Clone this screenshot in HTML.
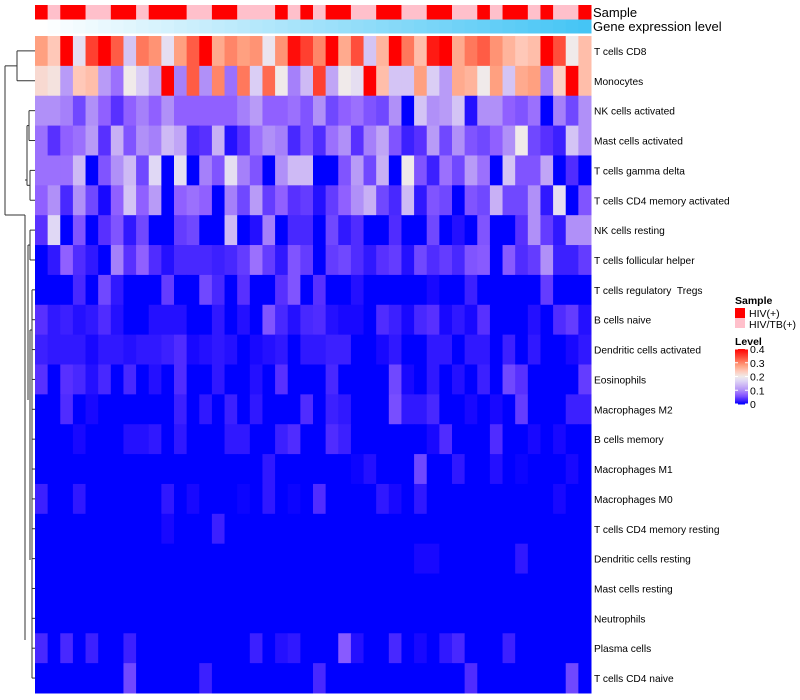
<!DOCTYPE html>
<html><head><meta charset="utf-8">
<style>
body{margin:0;background:#fff;width:800px;height:700px;overflow:hidden;font-family:"Liberation Sans",sans-serif;}
svg{display:block}
</style></head>
<body>
<svg id="chart" width="800" height="700" xmlns="http://www.w3.org/2000/svg">
<g id="dend" stroke="#333" stroke-width="1" fill="none"></g>
<g id="cells"></g>
<g id="annot"></g>
<g id="labels" font-size="10.2" fill="#000"></g>
<text x="593" y="17" font-size="13">Sample</text>
<text x="593" y="31" font-size="13">Gene expression level</text>
<g font-size="10.5">
<text x="735" y="304" font-weight="bold">Sample</text>
<rect x="735" y="308" width="10" height="10" fill="#ff0000"/>
<text x="749" y="317">HIV(+)</text>
<rect x="735" y="318" width="10" height="10" fill="#ffc0cb"/>
<text x="749" y="328">HIV/TB(+)</text>
<text x="735" y="345" font-weight="bold">Level</text>
<g id="cbar"></g>
</g>
</svg>
<script>
const rowNames=["T cells CD8","Monocytes","NK cells activated","Mast cells activated","T cells gamma delta","T cells CD4 memory activated","NK cells resting","T cells follicular helper","T cells regulatory\u00a0 Tregs","B cells naive","Dendritic cells activated","Eosinophils","Macrophages M2","B cells memory","Macrophages M1","Macrophages M0","T cells CD4 memory resting","Dendritic cells resting","Mast cells resting","Neutrophils","Plasma cells","T cells CD4 naive"];
const sampleGroups="RPRRPPRRPRRRPPRRPPPRPRPRRPPRRPPRRPPRPRRPRPPR".split("");
const rowTCD8=[.28,.24,.4,.18,.35,.4,.33,.15,.31,.29,.18,.28,.33,.4,.27,.3,.28,.29,.19,.29,.39,.35,.3,.4,.27,.34,.15,.26,.4,.31,.25,.38,.4,.27,.31,.33,.29,.26,.24,.25,.4,.34,.2,.25];
const rowMono=[.22,.21,.11,.24,.25,.11,.08,.2,.16,.12,.4,.09,.33,.1,.3,.08,.31,.16,.32,.2,.09,.14,.35,.12,.2,.18,.4,.25,.15,.15,.28,.16,.11,.27,.26,.2,.28,.15,.27,.28,.09,.23,.4,.25];
const rowNKact=[.1,.1,.09,.05,.1,.07,.04,.07,.09,.07,.1,.07,.07,.07,.07,.07,.09,.11,.07,.07,.08,.06,.1,.05,.07,.08,.06,.05,.1,0,.15,.1,.11,.15,.015,.1,.1,.07,.06,.08,0,.09,.05,.1];
const rowMastAct=[.08,.04,.07,.08,.11,.04,.13,.06,.1,.09,.14,.12,.03,.04,.13,.015,.04,.08,.1,.09,.03,.06,.035,.08,.1,.04,.09,.12,.06,.025,.04,.11,.05,.1,.06,.05,.07,.1,.2,.05,.04,.025,.15,.1];
const rowGD=[.08,.08,.08,.14,0,.06,.1,.14,.05,.17,0,.18,0,.09,.06,.18,.09,.06,0,.1,.14,.14,0,0,.06,.11,.05,.13,0,.2,.06,.025,.08,.05,.11,.08,0,.15,.06,.06,.12,0,.035,0];
const rowCD4MemAct=[.07,.1,.03,.1,.05,.01,.07,.15,.07,.11,0,.07,.08,.07,0,.09,.05,.11,.045,.07,.04,.045,.015,.045,.07,.1,.13,.05,.03,.14,.02,.06,.05,0,.06,.05,.13,.05,.05,.1,.02,.18,0,.06];
const rowNKrest=[.04,.17,0,.06,0,.04,.06,.02,.05,0,0,.045,.05,0,0,.14,0,.015,.09,0,.03,.03,0,.05,.02,.035,0,0,.035,0,0,.05,0,.015,0,.06,0,0,.04,.1,.045,.02,.1,.1];
const rowTfh=[0,.02,.07,.035,.02,0,.09,.04,.07,.035,.015,.03,.03,.03,.025,.03,.045,.08,.045,.02,.06,.045,0,.045,.05,.035,.02,.04,.045,.015,.05,.035,.045,.03,.06,.065,0,.065,.035,.045,.1,.025,.025,.045];
const rowTreg=[0,0,0,.03,0,.05,.02,0,0,0,.045,0,0,.05,.03,0,.04,0,0,.04,.06,0,.04,0,0,.015,0,0,0,0,0,.01,0,0,.025,0,0,0,0,0,.045,0,0,0];
const rowBnaive=[.04,.02,.025,.015,.02,.035,.015,0,0,.015,.015,.015,0,0,.02,0,.015,0,.06,.03,.015,.03,.035,.015,.01,.01,0,.035,.025,.01,.03,.04,.01,.02,.01,.04,0,0,0,.015,0,.035,.045,.015];
const rowDCact=[.025,.02,.02,.02,.01,.02,.02,.015,.02,.02,.025,.035,.01,.015,.02,.015,0,.01,.015,.02,0,.02,.02,.025,.025,0,0,.01,.02,0,0,.02,.02,0,.02,.02,0,.025,0,.02,0,0,.01,.02];
const rowEos=[.04,0,.04,.03,.015,.03,0,.03,0,.015,0,.035,0,0,.02,0,0,.015,0,.04,0,0,0,.03,0,0,0,0,.05,.01,0,.02,0,.015,0,.025,0,.05,.04,0,0,0,0,.045];
const rowM2=[0,0,.035,0,.01,0,0,0,0,0,0,.025,0,.02,0,.025,0,.02,0,0,0,.035,0,.025,.02,0,0,0,.055,.02,.02,.03,0,0,.01,0,.01,0,.045,0,0,0,.025,.025];
const rowBmem=[0,0,0,.01,0,0,0,.015,.015,.02,0,.02,0,0,0,.02,.02,0,0,.025,.035,0,0,.035,.025,0,0,0,0,0,0,.01,.035,0,0,0,.035,0,0,.01,0,.01,0,0];
const rowM1=[0,0,0,0,0,0,0,0,0,0,0,0,0,0,0,0,0,0,.02,0,0,0,0,0,0,.005,.015,0,0,0,.05,0,0,.02,0,0,.015,0,.005,0,0,0,.01,0];
const rowM0=[.025,0,0,.02,0,0,0,0,0,0,.02,0,.01,0,0,0,.005,0,.02,0,.005,0,.035,0,0,0,0,.02,.01,0,.02,0,0,0,0,0,0,0,0,0,0,.01,0,0];
const rowCD4MemRest=[0,0,0,0,0,0,0,0,0,0,.01,0,0,0,.025,0,0,0,0,0,0,0,0,0,0,0,0,0,0,0,0,0,0,0,0,0,0,0,0,0,0,0,0,0];
const rowDCrest=[0,0,0,0,0,0,0,0,0,0,0,0,0,0,0,0,0,0,0,0,0,0,0,0,0,0,0,0,0,0,.01,.01,0,0,0,0,0,0,.02,0,0,0,0,0];
const rowMastRest=[0,0,0,0,0,0,0,0,0,0,0,0,0,0,0,0,0,0,0,0,0,0,0,0,0,0,0,0,0,0,0,0,0,0,0,0,0,0,0,0,0,0,0,0];
const rowNeut=[0,0,0,0,0,0,0,0,0,0,0,0,0,0,0,0,0,0,0,0,0,0,0,0,0,0,0,0,0,0,0,0,0,0,0,0,0,0,0,0,0,0,0,0];
const rowPlasma=[.03,0,.03,0,.025,0,0,.025,0,0,0,0,0,0,0,0,0,.025,0,.015,.02,0,0,0,.065,.015,0,0,.03,0,.01,0,.02,.03,0,0,0,.025,0,0,0,0,0,0];
const rowCD4naive=[0,0,0,0,0,0,0,.05,0,0,0,0,0,.025,0,0,0,0,0,0,0,0,.03,0,0,0,0,0,0,0,0,0,0,0,.035,0,0,0,0,0,0,0,.05,0];
const levelTicks=[0,0.1,0.2,0.3,0.4];

const matrix=[rowTCD8,rowMono,rowNKact,rowMastAct,rowGD,rowCD4MemAct,rowNKrest,rowTfh,rowTreg,rowBnaive,rowDCact,rowEos,rowM2,rowBmem,rowM1,rowM0,rowCD4MemRest,rowDCrest,rowMastRest,rowNeut,rowPlasma,rowCD4naive];
const NS="http://www.w3.org/2000/svg";
const X0=35,X1=591,Y0=36,Y1=693;
const nCol=sampleGroups.length,nRow=rowNames.length;
const cw=(X1-X0)/nCol,rh=(Y1-Y0)/nRow;
const xPos=i=>X0+i*cw, yPos=j=>Y0+j*rh;
const stops=[[0,[0,0,255]],[.01,[24,8,255]],[.02,[48,24,255]],[.03,[72,40,255]],[.04,[88,48,255]],[.05,[112,72,255]],[.07,[144,96,255]],[.1,[176,144,248]],[.13,[200,176,245]],[.17,[224,216,245]],[.2,[240,234,234]],[.24,[255,200,184]],[.28,[255,160,128]],[.32,[255,106,80]],[.35,[255,64,48]],[.4,[255,0,0]]];
function color(v){
  v=Math.max(0,Math.min(.4,v));
  for(let k=1;k<stops.length;k++){
    if(v<=stops[k][0]){const a=stops[k-1],b=stops[k];const t=(v-a[0])/(b[0]-a[0]);
      const c=a[1].map((x,i)=>Math.round(x+(b[1][i]-x)*t));return `rgb(${c})`;}
  }
  return "rgb(255,0,0)";
}
function mk(tag,attrs,parent){const e=document.createElementNS(NS,tag);for(const k in attrs)e.setAttribute(k,attrs[k]);parent.appendChild(e);return e;}
const cells=document.getElementById('cells');
matrix.forEach((row,j)=>row.forEach((v,i)=>{
  const r=mk('rect',{x:xPos(i),y:yPos(j),width:cw+0.5,height:rh+0.5,fill:color(v)},cells);
  
  
}));
const labels=document.getElementById('labels');
rowNames.forEach((n,j)=>{
  const t=mk('text',{x:594,y:yPos(j)+rh/2+4},labels);t.textContent=n;
  
  
});
const annot=document.getElementById('annot');
sampleGroups.forEach((g,i)=>{
  const r=mk('rect',{x:xPos(i),y:5,width:cw+0.5,height:14.5,fill:g==='R'?'#ff0000':'#ffc0cb'},annot);
  
  
  const t=i/(nCol-1);
  const c=[255+(69-255)*t,255+(197-255)*t,255+(245-255)*t].map(Math.round);
  const r2=mk('rect',{x:xPos(i),y:19.5,width:cw+0.5,height:14,fill:`rgb(${c})`},annot);
  
  
});
const cbar=document.getElementById('cbar');
const cy0=404,cy1=349;
for(let k=0;k<55;k++){
  const v=.4*k/55;
  mk('rect',{x:735,y:cy0-(k+1)*(cy0-cy1)/55,width:13,height:(cy0-cy1)/55+0.5,fill:color(v)},cbar);
}
levelTicks.forEach(v=>{
  const y=cy0-(v/.4)*(cy0-cy1);
  mk('line',{x1:735,x2:738,y1:y,y2:y,stroke:'#fff','stroke-width':1},cbar);
  mk('line',{x1:745,x2:748,y1:y,y2:y,stroke:'#fff','stroke-width':1},cbar);
  const t=mk('text',{x:750,y:y+4,'font-size':'10.5'},cbar);t.textContent=String(v);
  
  
});
const d=document.getElementById('dend');
const cy=j=>yPos(j)+rh/2;
function seg(x1,y1,x2,y2){mk('line',{x1,y1,x2,y2},d);}
seg(17,cy(0),35,cy(0));seg(17,cy(1),35,cy(1));seg(17,cy(0),17,cy(1));
seg(5,(cy(0)+cy(1))/2,17,(cy(0)+cy(1))/2);
seg(5,(cy(0)+cy(1))/2,5,215);seg(5,215,25,215);
seg(25,215,25,640);
seg(29,cy(2),35,cy(2));seg(29,cy(3),35,cy(3));seg(29,cy(2),29,cy(3));
seg(27,(cy(2)+cy(3))/2,29,(cy(2)+cy(3))/2);
seg(30,cy(4),35,cy(4));seg(30,cy(5),35,cy(5));seg(30,cy(4),30,cy(5));
seg(27,(cy(4)+cy(5))/2,30,(cy(4)+cy(5))/2);
seg(27,(cy(2)+cy(3))/2,27,(cy(4)+cy(5))/2);seg(25,180,27,180);
seg(30,cy(6),35,cy(6));seg(30,cy(7),35,cy(7));seg(30,cy(6),30,cy(7));
seg(28,(cy(6)+cy(7))/2,30,(cy(6)+cy(7))/2);seg(28,(cy(6)+cy(7))/2,28,400);
for(let j=8;j<nRow;j++){seg(32,cy(j),35,cy(j));}
seg(32,cy(8),32,cy(21));seg(30,330,32,330);seg(30,330,30,560);
</script>
</body></html>
